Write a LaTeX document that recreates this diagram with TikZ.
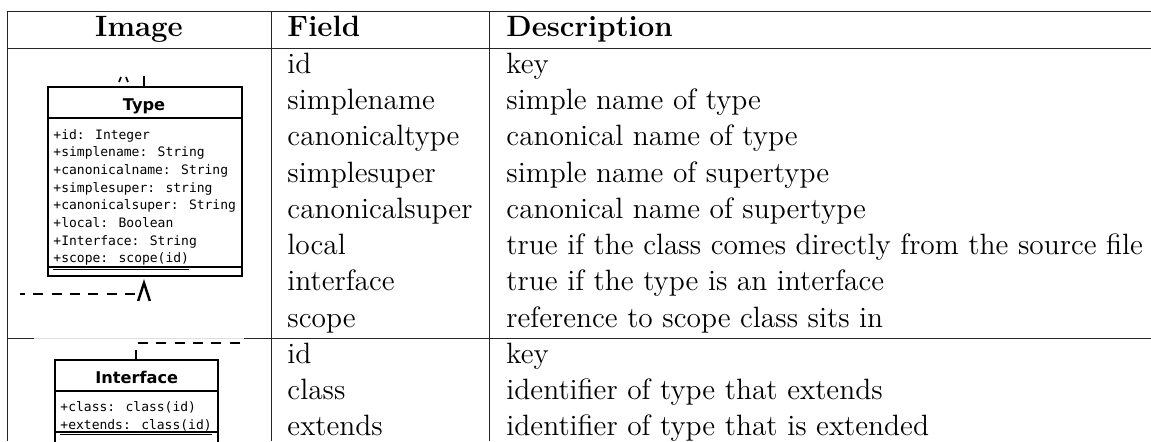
\documentclass[tikz,border=0pt]{standalone}
\usepackage{fontspec}
\usetikzlibrary{shapes.geometric}
\newfontfamily\umlmono{DejaVu Sans Mono}
\newfontfamily\umlsans{DejaVu Sans}
\begin{document}
\begin{tikzpicture}[x=0.408pt, y=-0.408pt,
  rule/.style={line width=0.4pt, black!85},
  cell/.style={anchor=base west, inner sep=0pt, font=\fontsize{12}{14.5}\selectfont},
  headcell/.style={inner sep=0pt, font=\fontsize{12}{14.5}\selectfont\bfseries},
  umlbox/.style={draw, line width=0.8pt, inner sep=0pt, fill=white},
  umlline/.style={line width=0.8pt},
  attr/.style={anchor=base west, inner sep=0pt, font=\umlmono\fontsize{5.3}{7}\selectfont},
  umltitle/.style={anchor=base, inner sep=0pt, font=\umlsans\bfseries\fontsize{6.6}{8}\selectfont},
  dashline/.style={line width=0.8pt, dash pattern=on 4.08pt off 3.4pt},
]
\useasboundingbox (0,0) rectangle (1151,441);

% table rules
\draw[rule] (7.5,11) -- (1151,11);
\draw[rule] (7.5,48) -- (1151,48);
\draw[rule] (7.5,338) -- (34,338);
\draw[rule] (244,338) -- (1151,338);
\draw[rule] (7.5,11) -- (7.5,441);
\draw[rule] (271,11) -- (271,441);
\draw[rule] (489,11) -- (489,441);

% header
\node[headcell, anchor=base] (hImage) at (139,36.5) {Image};
\node[headcell, anchor=base west] (hField) at (287,36.5) {Field};
\node[headcell, anchor=base west] (hDesc) at (506,36.5) {Description};

% Type rows
\foreach \f/\d [count=\i from 0] in {
  id/key,
  simplename/simple name of type,
  canonicaltype/canonical name of type,
  simplesuper/simple name of supertype,
  canonicalsuper/canonical name of supertype,
  local/true if the class comes directly from the source file,
  interface/true if the type is an interface,
  scope/reference to scope class sits in} {
  \node[cell] (tf\i) at (287,{73.4+36.25*\i}) {\f};
  \node[cell] (td\i) at (506,{73.4+36.25*\i}) {\d};
}

% Interface rows
\foreach \f/\d [count=\i from 0] in {
  id/key,
  class/identifier of type that extends,
  extends/identifier of type that is extended} {
  \node[cell] (if\i) at (287,{363.4+36.25*\i}) {\f};
  \node[cell] (id\i) at (506,{363.4+36.25*\i}) {\d};
}

% class box: Type
\begin{scope}
  \clip (20,76) rectangle (252,300);
  \node[umlbox, minimum width=79.2pt, minimum height=77pt] (typebox) at (144.6,181.65) {};
  \draw[umlline] (typebox.west |- 0,117.7) -- (typebox.east |- 0,117.7);
  \draw[umlline] (typebox.west |- 0,266.7) -- (typebox.east |- 0,266.7);
  \node[umltitle] (typetitle) at (144,110) {Type};
  \foreach \a [count=\k from 0] in {
    +id: Integer,
    +simplename: String,
    +canonicalname: String,
    +simplesuper: string,
    +canonicalsuper: String,
    +local: Boolean,
    +Interface: String} {
    \node[attr] (ta\k) at (53,{139+17.7*\k}) {\a};
  }
  \node[attr] (ta7) at (53,262.9) {\underline{+scope: scope(id)}};
  % link leaving the top of the box
  \coordinate (typeup) at (144,70);
  \draw[umlline] (typebox.north -| typeup) -- (typeup);
  \draw[line width=0.7pt] (119,82) -- (121,77);
  \draw[line width=0.7pt] (126,77) -- (128,82);
  % realization arrow entering from below
  \node[draw, line width=1pt, fill=white, isosceles triangle, isosceles triangle apex angle=36,
        shape border rotate=90, inner sep=0pt, minimum height=9pt, anchor=apex] (typearrow) at (144,279) {};
  \coordinate (dashend) at (15,294);
  \draw[dashline] (typearrow.left corner |- 0,294) -- (dashend);
\end{scope}

% class box: Interface
\begin{scope}
  \clip (34,338.5) rectangle (244,441);
  \draw[gray!25, line width=0.4pt] (34,338.6) -- (244,338.6);
  \node[umlbox, minimum width=66.6pt, minimum height=35.9pt] (ifacebox) at (136.65,404) {};
  \draw[umlline] (ifacebox.west |- 0,391) -- (ifacebox.east |- 0,391);
  \draw[umlline] (ifacebox.west |- 0,432.3) -- (ifacebox.east |- 0,432.3);
  \node[umltitle] (ifacetitle) at (136.7,383.3) {Interface};
  \node[attr] (ia0) at (60,411.7) {+class: class(id)};
  \node[attr] (ia1) at (60,429.2) {\underline{+extends: class(id)}};
  % link leaving the top of the box
  \coordinate (ifaceup) at (136,350);
  \draw[umlline] (ifacebox.north -| ifaceup) -- (ifaceup);
  \coordinate (ifdashA) at (138,342.7);
  \coordinate (ifdashB) at (250,342.7);
  \draw[dashline] (ifdashA) -- (ifdashB);
\end{scope}
\end{tikzpicture}
\end{document}
